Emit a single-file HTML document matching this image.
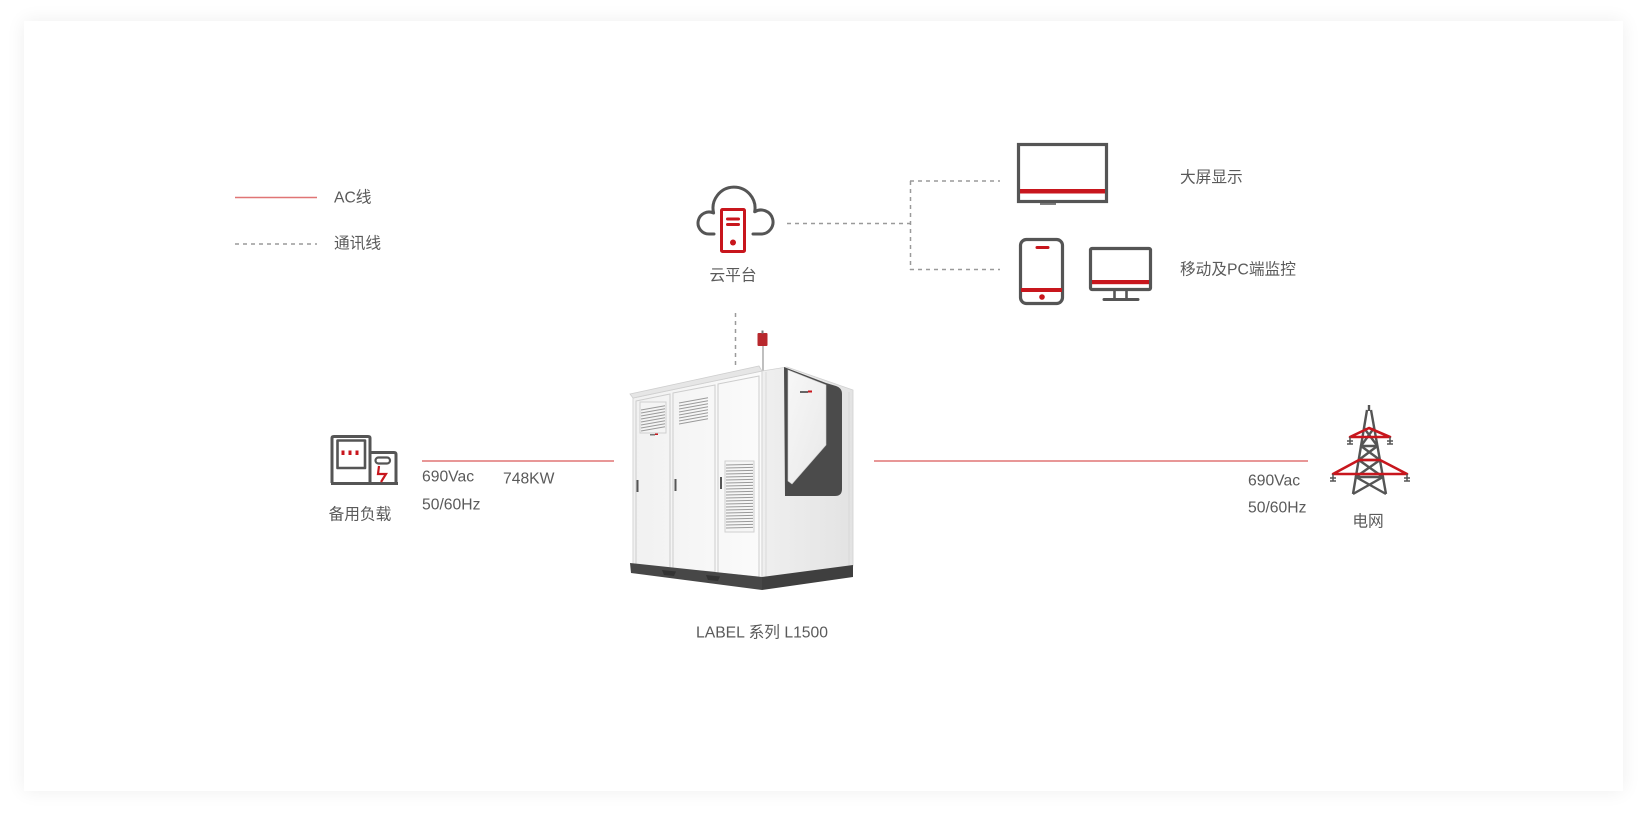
<!DOCTYPE html>
<html>
<head>
<meta charset="utf-8">
<style>
html,body{margin:0;padding:0;background:#fff;}
body{width:1651px;height:822px;position:relative;overflow:hidden;}
.card{position:absolute;left:24px;top:21px;width:1599px;height:770px;background:#fff;box-shadow:0 0 18px rgba(0,0,0,0.07);}
svg{position:absolute;left:0;top:0;}
text{font-family:"Liberation Sans","Noto Sans CJK SC",sans-serif;font-size:15.7px;fill:#5a5a5a;}
</style>
</head>
<body>
<div class="card"></div>
<svg width="1651" height="822" viewBox="0 0 1651 822" xmlns="http://www.w3.org/2000/svg">
<defs>
<linearGradient id="front" x1="0" y1="0" x2="1" y2="0">
<stop offset="0" stop-color="#f1f1f1"/><stop offset="1" stop-color="#fbfbfb"/>
</linearGradient>
<linearGradient id="side" x1="0" y1="0" x2="1" y2="0">
<stop offset="0" stop-color="#efefef"/><stop offset="1" stop-color="#e3e3e3"/>
</linearGradient>
<linearGradient id="panel" x1="0" y1="0" x2="1" y2="1">
<stop offset="0" stop-color="#f7f7f7"/><stop offset="1" stop-color="#e9e9e9"/>
</linearGradient>
</defs>

<!-- Legend -->
<line x1="235" y1="197.5" x2="317" y2="197.5" stroke="#e07575" stroke-width="1.5"/>
<text x="334" y="198" dominant-baseline="central">AC线</text>
<line x1="235" y1="244" x2="317" y2="244" stroke="#9a9a9a" stroke-width="1.5" stroke-dasharray="4 4"/>
<text x="334" y="244" dominant-baseline="central">通讯线</text>

<!-- Cloud icon -->
<path d="M 714 234 H 709 A 11 11 0 1 1 713.6 213 A 21 21 0 1 1 754.7 211.8 A 12 12 0 1 1 761 234 H 753" fill="none" stroke="#555" stroke-width="3" stroke-linecap="round" stroke-linejoin="round"/>
<rect x="721.5" y="209.5" width="23" height="42" rx="1" fill="#fff" stroke="#c8161d" stroke-width="3"/>
<line x1="727.5" y1="219" x2="738.5" y2="219" stroke="#c8161d" stroke-width="3" stroke-linecap="round"/>
<line x1="727.5" y1="224.5" x2="738.5" y2="224.5" stroke="#c8161d" stroke-width="3" stroke-linecap="round"/>
<circle cx="733" cy="242.5" r="3" fill="#c8161d"/>
<text x="733" y="276" text-anchor="middle" dominant-baseline="central">云平台</text>

<!-- comm lines -->
<line x1="787" y1="223.5" x2="910" y2="223.5" stroke="#9a9a9a" stroke-width="1.5" stroke-dasharray="4 4"/>
<line x1="910.5" y1="181" x2="910.5" y2="270" stroke="#9a9a9a" stroke-width="1.5" stroke-dasharray="4 4"/>
<line x1="910" y1="181" x2="1000" y2="181" stroke="#9a9a9a" stroke-width="1.5" stroke-dasharray="4 4"/>
<line x1="910" y1="269.5" x2="1000" y2="269.5" stroke="#9a9a9a" stroke-width="1.5" stroke-dasharray="4 4"/>
<line x1="735.5" y1="313" x2="735.5" y2="366" stroke="#9a9a9a" stroke-width="1.5" stroke-dasharray="4 4"/>

<!-- Big screen -->
<rect x="1018.5" y="144.5" width="88" height="57" fill="#fff" stroke="#555" stroke-width="3.2"/>
<rect x="1020" y="189" width="85" height="4.5" fill="#c8161d"/>
<line x1="1040" y1="204" x2="1056" y2="204" stroke="#555" stroke-width="1.5"/>
<text x="1180" y="178" dominant-baseline="central">大屏显示</text>

<!-- Phone -->
<rect x="1020.5" y="239.5" width="42" height="64" rx="6" fill="#fff" stroke="#555" stroke-width="3.2"/>
<line x1="1037" y1="247.5" x2="1048" y2="247.5" stroke="#c8161d" stroke-width="3" stroke-linecap="round"/>
<rect x="1021" y="288" width="41" height="4" fill="#c8161d"/>
<circle cx="1042" cy="297" r="2.8" fill="#c8161d"/>

<!-- Desktop -->
<rect x="1090.5" y="248.5" width="60" height="41" rx="1.5" fill="#fff" stroke="#555" stroke-width="3.2"/>
<rect x="1092" y="280" width="57" height="4.2" fill="#c8161d"/>
<line x1="1114.5" y1="291" x2="1114.5" y2="298" stroke="#555" stroke-width="2.6"/>
<line x1="1126.5" y1="291" x2="1126.5" y2="298" stroke="#555" stroke-width="2.6"/>
<line x1="1104" y1="299.5" x2="1138" y2="299.5" stroke="#555" stroke-width="3" stroke-linecap="round"/>
<text x="1180" y="270" dominant-baseline="central">移动及PC端监控</text>

<!-- Load icon -->
<g fill="none" stroke="#555" stroke-width="3" stroke-linejoin="round">
<path d="M 332 483 V 438 Q 332 436.5 334 436.5 H 368 Q 370 436.5 370 438 V 483"/>
<rect x="337.5" y="440.5" width="27.5" height="27.5" stroke-width="2.6"/>
<path d="M 370 452.5 H 394 Q 396 452.5 396 454.5 V 483"/>
<line x1="331" y1="483.5" x2="398" y2="483.5"/>
<rect x="375.5" y="457.5" width="14.5" height="6" rx="3" stroke-width="2.2"/>
</g>
<rect x="341.5" y="450.5" width="3" height="4.5" fill="#c8161d"/>
<rect x="348.5" y="450.5" width="3" height="4.5" fill="#c8161d"/>
<rect x="355.5" y="450.5" width="3" height="4.5" fill="#c8161d"/>
<polyline points="379,466 378,474 386,474 381,482" fill="none" stroke="#c8161d" stroke-width="2.2" stroke-linejoin="miter"/>
<text x="360" y="515" text-anchor="middle" dominant-baseline="central">备用负载</text>

<!-- AC lines -->
<line x1="422" y1="461" x2="614" y2="461" stroke="#e07575" stroke-width="1.5"/>
<line x1="874" y1="461" x2="1308" y2="461" stroke="#e07575" stroke-width="1.5"/>
<text x="422" y="477" dominant-baseline="central">690Vac</text>
<text x="422" y="505" dominant-baseline="central">50/60Hz</text>
<text x="503" y="479" dominant-baseline="central">748KW</text>
<text x="1248" y="481" dominant-baseline="central">690Vac</text>
<text x="1248" y="508" dominant-baseline="central">50/60Hz</text>

<!-- Container -->
<line x1="763" y1="346" x2="763" y2="372" stroke="#aaa" stroke-width="1.5"/>
<rect x="757.5" y="333" width="10" height="13" rx="1" fill="#b8282d"/>
<rect x="761.5" y="330.5" width="2" height="3" fill="#777"/>
<polygon points="633,398 762,371 762,578 633,565" fill="url(#front)" stroke="#d6d6d6" stroke-width="1"/>
<polygon points="630,394 759,366 762,371 633,398" fill="#e6e6e6" stroke="#cfcfcf" stroke-width="0.8"/>
<polygon points="762,371 787,367 853,390 853,566 762,578" fill="url(#side)" stroke="#d0d0d0" stroke-width="0.8"/>
<path d="M 784 367 L 826 383 L 836 386 Q 842 388 842 394 L 842 489 Q 842 496 835 496 L 785 496 Z" fill="#4b4b4b"/>
<polygon points="788,370 826,385 826,445 792,484 788,481" fill="url(#panel)" stroke="#cfcfcf" stroke-width="0.6"/>
<rect x="800" y="391" width="8" height="2" fill="#666"/>
<rect x="808" y="390.5" width="4" height="2" fill="#c8161d"/>
<line x1="766" y1="372" x2="766" y2="577" stroke="#dadada" stroke-width="1"/>
<line x1="849" y1="392" x2="849" y2="566" stroke="#d8d8d8" stroke-width="1"/>
<g fill="none" stroke="#cdcdcd" stroke-width="1">
<polygon points="636,401 670,394 670,568 636,565"/>
<polygon points="673,393 715,385 715,572 673,569"/>
<polygon points="718,384 759,376 759,577 718,573"/>
</g>
<g stroke="#9a9a9a" stroke-width="1">
<rect x="640" y="402" width="26" height="31" fill="#f4f4f4" stroke="#d0d0d0"/>
<line x1="641" y1="410" x2="665" y2="405.7"/>
<line x1="641" y1="413" x2="665" y2="408.7"/>
<line x1="641" y1="416" x2="665" y2="411.7"/>
<line x1="641" y1="419" x2="665" y2="414.7"/>
<line x1="641" y1="422" x2="665" y2="417.7"/>
<line x1="641" y1="425" x2="665" y2="420.7"/>
<line x1="641" y1="428" x2="665" y2="423.7"/>
<line x1="641" y1="431" x2="665" y2="426.7"/>
<line x1="679" y1="403" x2="708" y2="397.8"/>
<line x1="679" y1="406" x2="708" y2="400.8"/>
<line x1="679" y1="409" x2="708" y2="403.8"/>
<line x1="679" y1="412" x2="708" y2="406.8"/>
<line x1="679" y1="415" x2="708" y2="409.8"/>
<line x1="679" y1="418" x2="708" y2="412.8"/>
<line x1="679" y1="421" x2="708" y2="415.8"/>
<line x1="679" y1="424" x2="708" y2="418.8"/>
<rect x="725" y="461" width="29" height="71" fill="#f6f6f6" stroke="#d0d0d0"/>
<line x1="726" y1="465" x2="753" y2="464.4"/>
<line x1="726" y1="468" x2="753" y2="467.4"/>
<line x1="726" y1="471" x2="753" y2="470.4"/>
<line x1="726" y1="474" x2="753" y2="473.4"/>
<line x1="726" y1="477" x2="753" y2="476.4"/>
<line x1="726" y1="480" x2="753" y2="479.4"/>
<line x1="726" y1="483" x2="753" y2="482.4"/>
<line x1="726" y1="486" x2="753" y2="485.4"/>
<line x1="726" y1="489" x2="753" y2="488.4"/>
<line x1="726" y1="492" x2="753" y2="491.4"/>
<line x1="726" y1="495" x2="753" y2="494.4"/>
<line x1="726" y1="498" x2="753" y2="497.4"/>
<line x1="726" y1="501" x2="753" y2="500.4"/>
<line x1="726" y1="504" x2="753" y2="503.4"/>
<line x1="726" y1="507" x2="753" y2="506.4"/>
<line x1="726" y1="510" x2="753" y2="509.4"/>
<line x1="726" y1="513" x2="753" y2="512.4"/>
<line x1="726" y1="516" x2="753" y2="515.4"/>
<line x1="726" y1="519" x2="753" y2="518.4"/>
<line x1="726" y1="522" x2="753" y2="521.4"/>
<line x1="726" y1="525" x2="753" y2="524.4"/>
<line x1="726" y1="528" x2="753" y2="527.4"/>
</g>
<rect x="650" y="434" width="5" height="1.5" fill="#777"/>
<rect x="655" y="433.5" width="3" height="1.5" fill="#c8161d"/>
<rect x="636.5" y="480" width="2" height="12" fill="#555"/>
<rect x="674.5" y="479" width="2" height="12" fill="#555"/>
<rect x="720" y="477" width="2" height="12" fill="#555"/>
<polygon points="630,563 762,577 762,590 631,573" fill="#474747"/>
<polygon points="762,577 853,565 853,577 762,590" fill="#3f3f3f"/>
<polygon points="662,570 676,571.5 674,576 664,575" fill="#333"/>
<polygon points="706,575 720,576.5 718,581 708,580" fill="#333"/>
<text x="762" y="633" text-anchor="middle" dominant-baseline="central">LABEL 系列 L1500</text>

<!-- Tower -->
<g fill="none" stroke="#555" stroke-width="2.4" stroke-linejoin="round">
<line x1="1369" y1="405" x2="1369" y2="411"/>
<line x1="1367" y1="410" x2="1353" y2="494"/>
<line x1="1371" y1="410" x2="1386" y2="494"/>
<polyline points="1364,428 1377.4,446 1361,446 1380,460 1358.7,460 1383,477 1355.8,477 1386,494"/>
<polyline points="1374,428 1361,446"/>
<polyline points="1377.4,446 1358.7,460"/>
<polyline points="1380,460 1355.8,477"/>
<polyline points="1383,477 1353,494"/>
</g>
<g fill="none" stroke="#c8161d" stroke-width="2.6" stroke-linejoin="round">
<polygon points="1350,437 1369,428 1390,437"/>
<polygon points="1333,474 1359,460 1380,460 1407,474"/>
</g>
<g stroke="#555" stroke-width="1.5">
<line x1="1350" y1="437" x2="1350" y2="444"/><line x1="1347" y1="441" x2="1353" y2="441"/><line x1="1347" y1="444" x2="1353" y2="444"/>
<line x1="1390" y1="437" x2="1390" y2="444"/><line x1="1387" y1="441" x2="1393" y2="441"/><line x1="1387" y1="444" x2="1393" y2="444"/>
<line x1="1333" y1="474" x2="1333" y2="481"/><line x1="1330" y1="478" x2="1336" y2="478"/><line x1="1330" y1="481" x2="1336" y2="481"/>
<line x1="1407" y1="474" x2="1407" y2="481"/><line x1="1404" y1="478" x2="1410" y2="478"/><line x1="1404" y1="481" x2="1410" y2="481"/>
</g>
<text x="1368" y="522" text-anchor="middle" dominant-baseline="central">电网</text>
</svg>
</body>
</html>
